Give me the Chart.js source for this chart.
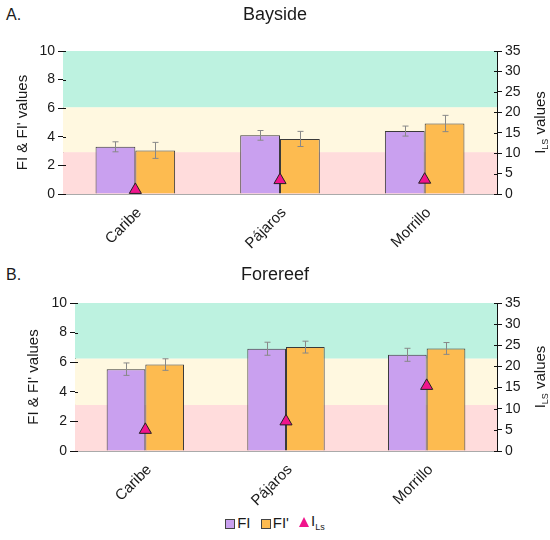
<!DOCTYPE html>
<html>
<head>
<meta charset="utf-8">
<script src="https://cdn.jsdelivr.net/npm/chart.js@4/dist/chart.umd.min.js"></script>
<style>
  body { margin:0; background:#fff; font-family:"Liberation Sans", Arial, sans-serif; color:#1a1a1a; }
  #wrap { position:relative; width:550px; height:540px; }
  canvas { position:absolute; left:0; }
  .panel { position:absolute; left:6px; font-size:16px; }
  #legend { position:absolute; top:512px; left:0; width:550px; text-align:center; font-size:15px; }
  .li { display:inline-block; margin:0 3px; vertical-align:middle; }
  .sq { display:inline-block; width:8px; height:8px; border:1px solid #444; vertical-align:middle; margin-right:2px; }
  .tri { display:inline-block; width:0; height:0; border-left:5px solid transparent; border-right:5px solid transparent; border-bottom:10px solid #f0148c; vertical-align:middle; margin-right:2px; }
  sub { font-size:9px; }
</style>
</head>
<body>
<div id="wrap">
  <div class="panel" style="top:6px;">A.</div>
  <div class="panel" style="top:266px;">B.</div>
  <canvas id="cA" width="550" height="250" style="top:0;"></canvas>
  <canvas id="cB" width="550" height="260" style="top:250px;"></canvas>
  <div id="legend">
    <span class="li"><span class="sq" style="background:#c9a0ef"></span>FI</span>
    <span class="li"><span class="sq" style="background:#fdbb50"></span>FI'</span>
    <span class="li"><span class="tri"></span>I<sub>Ls</sub></span>
  </div>
</div>
<script>
const categories = ["Caribe", "Pájaros", "Morrillo"];

const baysideFI = [3.30, 4.10, 4.40];
const baysideFIerr = [0.35, 0.34, 0.35];
const baysideFIp = [3.05, 3.85, 4.93];
const baysideFIperr = [0.56, 0.53, 0.57];
const baysideILs = [1.0, 3.4, 3.5];
const baysideBands = [2.93, 6.07];

const forereefFI = [5.53, 6.91, 6.50];
const forereefFIerr = [0.42, 0.44, 0.44];
const forereefFIp = [5.84, 7.02, 6.93];
const forereefFIperr = [0.39, 0.40, 0.40];
const forereefILs = [5.0, 7.0, 15.4];
const forereefBands = [3.11, 6.25];

const leftTicks = [0, 2, 4, 6, 8, 10];
const rightTicks = [0, 5, 10, 15, 20, 25, 30, 35];

Chart.defaults.font.family = '"Liberation Sans", Arial, sans-serif';
Chart.defaults.color = '#1a1a1a';

const bandPlugin = {
  id: 'bands',
  beforeDatasetsDraw(chart, args, opts) {
    const { ctx, chartArea } = chart;
    const y = chart.scales.y;
    const b = opts.bands;
    const segs = [[0, b[0], '#ffdcdc'], [b[0], b[1], '#fff8e0'], [b[1], 10, '#bdf2e0']];
    ctx.save();
    segs.forEach(s => {
      const top = y.getPixelForValue(s[1]);
      const bot = y.getPixelForValue(s[0]);
      ctx.fillStyle = s[2];
      ctx.fillRect(chartArea.left, top, chartArea.right - chartArea.left, bot - top);
    });
    ctx.restore();
  }
};

const errPlugin = {
  id: 'errbars',
  afterDatasetsDraw(chart, args, opts) {
    const { ctx } = chart;
    const y = chart.scales.y;
    ctx.save();
    ctx.strokeStyle = '#888';
    ctx.lineWidth = 1;
    opts.errors.forEach((errs, di) => {
      const meta = chart.getDatasetMeta(di);
      const vals = chart.data.datasets[di].data;
      meta.data.forEach((bar, i) => {
        const x = Math.round(bar.x) + 0.5;
        const t = y.getPixelForValue(vals[i] + errs[i]);
        const bt = y.getPixelForValue(vals[i] - errs[i]);
        ctx.beginPath();
        ctx.moveTo(x, t); ctx.lineTo(x, bt);
        ctx.moveTo(x - 3, t); ctx.lineTo(x + 3, t);
        ctx.moveTo(x - 3, bt); ctx.lineTo(x + 3, bt);
        ctx.stroke();
      });
    });
    ctx.restore();
  }
};

const axisPlugin = {
  id: 'axisdeco',
  afterDraw(chart, args, opts) {
    const { ctx, chartArea } = chart;
    ctx.save();
    ctx.strokeStyle = '#111';
    ctx.lineWidth = 1;
    const y = chart.scales.y, y2 = chart.scales.y2;
    leftTicks.forEach(v => {
      const p = Math.round(y.getPixelForValue(v)) + 0.5;
      ctx.beginPath(); ctx.moveTo(chartArea.left, p); ctx.lineTo(chartArea.left + 3, p); ctx.stroke();
    });
    rightTicks.forEach(v => {
      const p = Math.round(y2.getPixelForValue(v)) + 0.5;
      ctx.beginPath(); ctx.moveTo(chartArea.right - 3, p); ctx.lineTo(chartArea.right, p); ctx.stroke();
    });
    const cy = (chartArea.top + chartArea.bottom) / 2;
    ctx.translate(opts.titleX, cy);
    ctx.rotate(-Math.PI / 2);
    ctx.fillStyle = '#1a1a1a';
    ctx.textBaseline = 'alphabetic';
    const big = '15px "Liberation Sans", Arial, sans-serif';
    const small = '9px "Liberation Sans", Arial, sans-serif';
    ctx.font = big; const w1 = ctx.measureText('I').width;
    const w3 = ctx.measureText(' values').width;
    ctx.font = small; const w2 = ctx.measureText('LS').width;
    let x = -(w1 + w2 + w3) / 2;
    ctx.font = big; ctx.fillText('I', x, 5); x += w1;
    ctx.font = small; ctx.fillText('LS', x, 8); x += w2;
    ctx.font = big; ctx.fillText(' values', x, 5);
    ctx.restore();
  }
};

function makeChart(id, fi, fiErr, fip, fipErr, ils, bands, cfg) {
  return new Chart(document.getElementById(id), {
    type: 'bar',
    data: {
      labels: categories,
      datasets: [
        { label: 'FI', data: fi, backgroundColor: '#c9a0ef', borderColor: '#3a3a3a', borderWidth: 1, order: 2,
          categoryPercentage: 0.55, barPercentage: 1.0, yAxisID: 'y' },
        { label: "FI'", data: fip, backgroundColor: '#fdbb50', borderColor: '#3a3a3a', borderWidth: 1, order: 2,
          categoryPercentage: 0.55, barPercentage: 1.0, yAxisID: 'y' },
        { type: 'line', label: 'ILs', data: ils, yAxisID: 'y2', showLine: false, order: 0,
          pointStyle: 'triangle', pointRadius: 7, pointBackgroundColor: '#f0148c', pointBorderColor: '#222', pointBorderWidth: 1 }
      ]
    },
    options: {
      responsive: false,
      animation: false,
      layout: { padding: 0 },
      plugins: {
        legend: { display: false },
        tooltip: { enabled: false },
        title: { display: true, text: cfg.title, font: { size: 18, weight: 'normal' }, color: '#1a1a1a',
                 padding: { top: cfg.titleTop, bottom: cfg.titleBottom } },
        bands: { bands: bands },
        errbars: { errors: [fiErr, fipErr] },
        axisdeco: { titleX: 540 }
      },
      scales: {
        x: {
          grid: { display: false },
          border: { color: '#aaa', width: 1 },
          ticks: { autoSkip: false, minRotation: 45, maxRotation: 45, font: { size: 15 }, color: '#1a1a1a', padding: 2, labelOffset: 4 },
          afterFit(s) { s.height = cfg.xH; }
        },
        y: {
          position: 'left', min: 0, max: 10,
          afterBuildTicks(s) { s.ticks = leftTicks.map(v => ({ value: v })); },
          grid: { drawOnChartArea: false, tickLength: 5, color: '#111' },
          border: { color: '#111', width: 1 },
          ticks: { font: { size: 14 }, color: '#1a1a1a', padding: 3 },
          title: { display: true, text: "FI & FI' values", font: { size: 15 }, color: '#1a1a1a', padding: { top: cfg.yTitlePad, bottom: 0 } },
          afterFit(s) { s.width = cfg.leftW; }
        },
        y2: {
          position: 'right', min: 0, max: 35,
          afterBuildTicks(s) { s.ticks = rightTicks.map(v => ({ value: v })); },
          grid: { drawOnChartArea: false, tickLength: 5, color: '#111' },
          border: { color: '#111', width: 1 },
          ticks: { font: { size: 14 }, color: '#1a1a1a', padding: 3 },
          afterFit(s) { s.width = 53; }
        }
      }
    },
    plugins: [bandPlugin, errPlugin, axisPlugin]
  });
}

makeChart('cA', baysideFI, baysideFIerr, baysideFIp, baysideFIperr, baysideILs, baysideBands,
  { title: 'Bayside', titleTop: 4, titleBottom: 25.4, xH: 56, leftW: 63, yTitlePad: 14 });
makeChart('cB', forereefFI, forereefFIerr, forereefFIp, forereefFIperr, forereefILs, forereefBands,
  { title: 'Forereef', titleTop: 14, titleBottom: 17.4, xH: 59, leftW: 75, yTitlePad: 25 });
</script>
</body>
</html>
